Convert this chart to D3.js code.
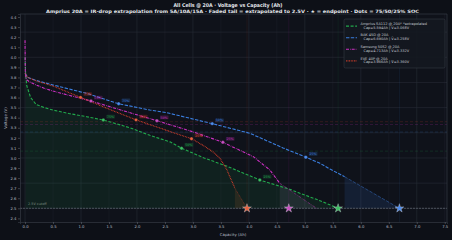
<!DOCTYPE html>
<html lang="en">
<head>
    <meta charset="UTF-8">
    <title>All Cells @ 20A</title>
    <script src="https://d3js.org/d3.v7.min.js"></script>
    <style>
        html, body { margin: 0; padding: 0; background: #0d1017; }
        svg { display: block; font-family: "DejaVu Sans", sans-serif; }
    </style>
</head>
<body>
    <div id="chart"></div>
    <script>
        // ---- data ----
        const cells = ["Amprius SA112 @ 20A*", "BAK 45D @ 20A", "Samsung 50S2 @ 20A", "EVE 40P @ 20A"];
        const capacity = [5.594, 6.690, 4.713, 3.966];
        const meanV = [3.068, 3.258, 3.332, 3.360];
        const colors = ["#22a84c", "#3b7fe0", "#cc30c2", "#e0412c"];
        const starColors = ["#3cc062", "#4d8cec", "#c850c0", "#e8623e"];
        const tailFills = ["#22a84c", "#3b6fd0", "#8a7a9a", "#c0602c"];

        // Amprius (IR-drop extrapolated)
        const ampAh = [0, 0.01, 0.03, 0.1, 0.2, 0.35, 0.5, 0.8, 1.1, 1.4, 1.875, 2.23, 2.59, 2.8, 3.2, 3.6, 4.2, 4.73, 4.91, 5.27, 5.594];
        const ampV = [4.0, 3.85, 3.72, 3.6, 3.53, 3.5, 3.476, 3.44, 3.41, 3.377, 3.30, 3.225, 3.16, 3.096, 3.0, 2.92, 2.78, 2.689, 2.65, 2.576, 2.5];
        // BAK
        const bakAh = [0, 0.05, 0.2, 0.5, 1.1, 1.67, 2.23, 2.53, 3.35, 4.02, 4.61, 5.03, 5.27, 5.45, 5.71];
        const bakV = [3.84, 3.80, 3.77, 3.725, 3.642, 3.539, 3.476, 3.45, 3.34, 3.245, 3.10, 3.005, 2.947, 2.89, 2.814];
        const bakTailAh = [5.71, 6.69];
        const bakTailV = [2.814, 2.5];
        // Samsung
        const samAh = [0, 0.005, 0.02, 0.1, 0.2, 0.35, 0.5, 0.8, 1.178, 1.75, 2.357, 3.0, 3.535, 4.08, 4.375, 4.55];
        const samV = [4.17, 3.85, 3.78, 3.75, 3.725, 3.69, 3.665, 3.62, 3.566, 3.47, 3.37, 3.26, 3.156, 3.013, 2.88, 2.75];
        const samTailAh = [4.55, 5.21];
        const samTailV = [2.75, 2.5];
        // EVE
        const eveAh = [0, 0.05, 0.2, 0.5, 1.0, 1.5, 1.99, 2.5, 2.99, 3.21, 3.36, 3.48, 3.6, 3.75];
        const eveV = [3.84, 3.80, 3.765, 3.715, 3.60, 3.485, 3.377, 3.28, 3.188, 3.115, 3.06, 3.0, 2.89, 2.70];
        const eveTailAh = [3.75, 3.966];
        const eveTailV = [2.70, 2.5];

        const socLevels = [0.75, 0.5, 0.25];
        const xTicks = d3.range(0, 7.51, 0.5);
        const yTicks = d3.range(2.4, 4.401, 0.1);
        const cutoff = 2.5;

        const curves = [
            { ah: ampAh, v: ampV, tailAh: null, tailV: null, dash: "3,1.6" },
            { ah: bakAh, v: bakV, tailAh: bakTailAh, tailV: bakTailV, dash: "3.4,1.4" },
            { ah: samAh, v: samV, tailAh: samTailAh, tailV: samTailV, dash: "3,1,0.7,1" },
            { ah: eveAh, v: eveV, tailAh: eveTailAh, tailV: eveTailV, dash: "0.8,0.8" }
        ];

        // ---- layout ----
        const W = 452, H = 240;
        const pL = 20, pR = 447, pT = 14, pB = 222;

        const svg = d3.select("#chart").append("svg")
            .attr("width", W).attr("height", H);

        svg.append("rect").attr("width", W).attr("height", H).attr("fill", "#0d1017");
        svg.append("rect").attr("x", pL).attr("y", pT)
            .attr("width", pR - pL).attr("height", pB - pT)
            .attr("fill", "#0f121a");

        const x = d3.scaleLinear().domain([-0.09, 7.54]).range([pL, pR]);
        const y = d3.scaleLinear().domain([2.364, 4.43]).range([pB, pT]);

        // grid
        const grid = svg.append("g");
        grid.selectAll("line.vx")
            .data(xTicks)
            .join("line")
            .attr("x1", d => x(d)).attr("x2", d => x(d))
            .attr("y1", pT).attr("y2", pB)
            .attr("stroke", d => Math.abs(d - Math.round(d)) < 1e-6 ? "#262b36" : "#1b1f28")
            .attr("stroke-width", 0.6);
        grid.selectAll("line.hy")
            .data(d3.range(2.5, 4.3, 0.25))
            .join("line")
            .attr("x1", pL).attr("x2", pR)
            .attr("y1", d => y(d)).attr("y2", d => y(d))
            .attr("stroke", "#262b36")
            .attr("stroke-width", 0.6);

        const line = d3.line().x(d => x(d[0])).y(d => y(d[1]));
        const area = d3.area().x(d => x(d[0])).y0(y(cutoff)).y1(d => y(d[1]));
        const zip = (a, b) => a.map((d, i) => [d, b[i]]);

        // fills: whole Amprius curve, then faded tails
        svg.append("path")
            .attr("d", area(zip(ampAh, ampV).filter(d => d[0] > 0.005)))
            .attr("fill", colors[0]).attr("fill-opacity", 0.1);
        curves.forEach((c, i) => {
            if (!c.tailAh) return;
            svg.append("path")
                .attr("d", area(zip(c.tailAh, c.tailV)))
                .attr("fill", tailFills[i]).attr("fill-opacity", 0.14);
        });

        // mean voltage lines and endpoint verticals
        meanV.forEach((m, i) => {
            svg.append("line")
                .attr("x1", pL).attr("x2", pR)
                .attr("y1", y(m)).attr("y2", y(m))
                .attr("stroke", colors[i]).attr("stroke-opacity", 0.3)
                .attr("stroke-width", 0.6).attr("stroke-dasharray", "3,2");
            svg.append("line")
                .attr("x1", x(capacity[i])).attr("x2", x(capacity[i]))
                .attr("y1", pT).attr("y2", pB)
                .attr("stroke", colors[i]).attr("stroke-opacity", 0.15)
                .attr("stroke-width", 0.6);
        });

        // 2.5V cutoff
        svg.append("line")
            .attr("x1", pL).attr("x2", pR)
            .attr("y1", y(cutoff)).attr("y2", y(cutoff))
            .attr("stroke", "#6f7480").attr("stroke-width", 0.6)
            .attr("stroke-dasharray", "2,1");
        svg.append("text")
            .attr("x", 28).attr("y", y(cutoff) - 3.5)
            .attr("font-size", 3.4).attr("fill", "#7f8f80")
            .text("2.5V cutoff");

        // curves
        curves.forEach((c, i) => {
            svg.append("path")
                .attr("d", line(zip(c.ah, c.v)))
                .attr("fill", "none").attr("stroke", colors[i])
                .attr("stroke-width", 1.1).attr("stroke-dasharray", c.dash);
            if (c.tailAh) {
                svg.append("path")
                    .attr("d", line(zip(c.tailAh, c.tailV)))
                    .attr("fill", "none").attr("stroke", colors[i])
                    .attr("stroke-opacity", 0.55)
                    .attr("stroke-width", 0.8).attr("stroke-dasharray", c.dash);
            }
        });

        // SOC dots
        function vAt(ah, xs, vs) {
            const j = Math.max(1, Math.min(xs.length - 1, d3.bisectLeft(xs, ah)));
            const t = (ah - xs[j - 1]) / (xs[j] - xs[j - 1]);
            return vs[j - 1] + t * (vs[j] - vs[j - 1]);
        }
        curves.forEach((c, i) => {
            const xs = c.tailAh ? c.ah.concat(c.tailAh.slice(1)) : c.ah;
            const vs = c.tailV ? c.v.concat(c.tailV.slice(1)) : c.v;
            socLevels.forEach(s => {
                const ah = capacity[i] * (1 - s);
                const v = vAt(ah, xs, vs);
                const px = x(ah), py = y(v);
                svg.append("circle")
                    .attr("cx", px).attr("cy", py).attr("r", 1.7)
                    .attr("fill", starColors[i])
                    .attr("stroke", "#0f121a").attr("stroke-width", 0.3);
                svg.append("rect")
                    .attr("x", px + 3).attr("y", py - 5.2)
                    .attr("width", 8.6).attr("height", 3.8).attr("rx", 0.6)
                    .attr("fill", colors[i]).attr("fill-opacity", 0.22);
                svg.append("text")
                    .attr("x", px + 3.6).attr("y", py - 2.2)
                    .attr("font-size", 3.2).attr("fill", colors[i])
                    .attr("fill-opacity", 0.85)
                    .text(Math.round(s * 100) + "%");
            });
        });

        // endpoint stars
        const star = d3.symbol().type(d3.symbolStar).size(24);
        capacity.forEach((cap, i) => {
            svg.append("path")
                .attr("d", star())
                .attr("transform", `translate(${x(cap)},${y(cutoff)})`)
                .attr("fill", starColors[i])
                .attr("stroke", "#d8dce4").attr("stroke-width", 0.35);
        });

        // axes
        const xAxis = svg.append("g")
            .attr("transform", `translate(0,${pB})`)
            .call(d3.axisBottom(x).tickValues(xTicks).tickFormat(d3.format(".1f")).tickSize(2).tickPadding(1.5));
        const yAxis = svg.append("g")
            .attr("transform", `translate(${pL},0)`)
            .call(d3.axisLeft(y).tickValues(yTicks).tickFormat(d3.format(".1f")).tickSize(2).tickPadding(1.5));
        [xAxis, yAxis].forEach(a => {
            a.select(".domain").attr("stroke", "#3a3f4a").attr("stroke-width", 0.6);
            a.selectAll(".tick line").attr("stroke", "#6b707b").attr("stroke-width", 0.5);
            a.selectAll(".tick text").attr("fill", "#b8bdc6")
                .attr("font-size", 3.8).attr("font-family", "DejaVu Sans, sans-serif");
        });
        svg.append("line").attr("x1", pL).attr("x2", pR).attr("y1", pT).attr("y2", pT)
            .attr("stroke", "#3a3f4a").attr("stroke-width", 0.6);
        svg.append("line").attr("x1", pR).attr("x2", pR).attr("y1", pT).attr("y2", pB)
            .attr("stroke", "#3a3f4a").attr("stroke-width", 0.6);

        svg.append("text")
            .attr("x", 233).attr("y", 235.5)
            .attr("text-anchor", "middle").attr("font-size", 3.9).attr("fill", "#b8bdc6")
            .text("Capacity (Ah)");
        svg.append("text")
            .attr("transform", "translate(6.5,118) rotate(-90)")
            .attr("text-anchor", "middle").attr("font-size", 3.9).attr("fill", "#b8bdc6")
            .text("Voltage (V)");

        // titles
        svg.append("text")
            .attr("x", 228).attr("y", 7)
            .attr("text-anchor", "middle").attr("font-size", 5.2).attr("font-weight", "bold")
            .attr("fill", "#e4e7ec")
            .attr("textLength", 109).attr("lengthAdjust", "spacingAndGlyphs")
            .text("All Cells @ 20A  ·  Voltage vs Capacity (Ah)");
        svg.append("text")
            .attr("x", 232.5).attr("y", 13)
            .attr("text-anchor", "middle").attr("font-size", 4.5).attr("font-weight", "bold")
            .attr("fill", "#e4e7ec")
            .attr("textLength", 373).attr("lengthAdjust", "spacingAndGlyphs")
            .text("Amprius 20A = IR-drop extrapolation from 5A/10A/15A  ·  Faded tail = extrapolated to 2.5V  ·  ★ = endpoint  ·  Dots = 75/50/25% SOC");

        // legend
        const lg = svg.append("g");
        lg.append("rect")
            .attr("x", 344).attr("y", 19).attr("width", 101).attr("height", 49).attr("rx", 1.5)
            .attr("fill", "#141820").attr("fill-opacity", 0.9)
            .attr("stroke", "#3b404b").attr("stroke-width", 0.5);
        cells.forEach((name, i) => {
            const ty = 23.5 + i * 11.6;
            lg.append("line")
                .attr("x1", 346).attr("x2", 357)
                .attr("y1", ty + 2.6).attr("y2", ty + 2.6)
                .attr("stroke", colors[i]).attr("stroke-width", 1.1)
                .attr("stroke-dasharray", curves[i].dash);
            lg.append("text")
                .attr("x", 360.5).attr("y", ty + 1.2)
                .attr("font-size", 3.5).attr("fill", "#c4c8d0")
                .text(i === 0 ? name + "  *extrapolated" : name);
            lg.append("text")
                .attr("x", 363.5).attr("y", ty + 5)
                .attr("font-size", 3.5).attr("fill", "#c4c8d0")
                .text(`Cap=${capacity[i].toFixed(3)}Ah  |  V\u0304=${meanV[i].toFixed(3)}V`);
        });
    </script>
</body>
</html>
